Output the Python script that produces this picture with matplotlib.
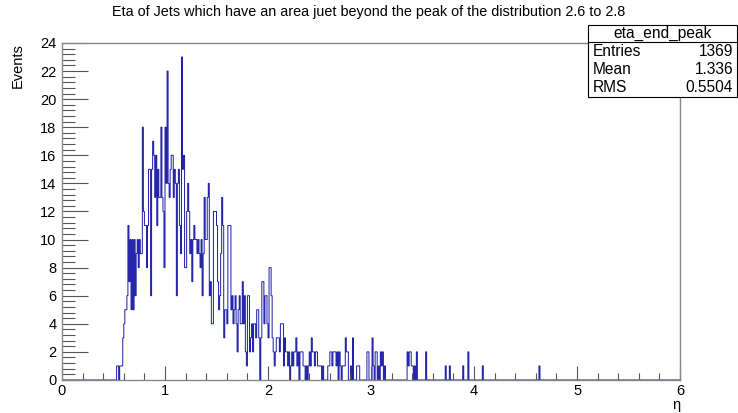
import numpy as np
import matplotlib.pyplot as plt
from matplotlib.ticker import MultipleLocator

plt.rcParams["font.family"] = ["Liberation Sans", "DejaVu Sans"]

# Histogram binning: 600 bins of width 0.01 over [0, 6]
n_bins = 600
x_min, x_max = 0.0, 6.0

# Bin contents, starting at bin 53 (eta = 0.53)
first_bin = 53
dense_counts = [
    1, 1, 0, 1, 1, 1, 3, 4, 5, 5, 6, 11, 7, 10, 5, 10, 5, 10, 6, 9, 10, 8, 10, 9, 9,
    18, 12, 11, 11, 8, 11, 15, 15, 6, 15, 17, 16, 13, 16, 11, 15, 13, 13, 18, 13, 12, 8, 18, 14, 22,
    14, 13, 15, 16, 16, 13, 15, 14, 6, 14, 15, 11, 9, 23, 15, 16, 8, 8, 12, 14, 12, 9, 10, 7, 10,
    11, 10, 10, 9, 10, 9, 8, 10, 6, 9, 13, 10, 10, 13, 14, 6, 7, 4, 4, 12, 12, 12, 11, 7, 5,
    6, 9, 13, 11, 3, 5, 5, 4, 11, 11, 11, 5, 6, 4, 5, 6, 4, 2, 5, 6, 4, 4, 7, 4, 6,
    2, 1, 6, 6, 2, 3, 4, 2, 4, 4, 3, 5, 5, 3, 0, 3, 7, 7, 4, 6, 6, 4, 3, 8, 8,
    6, 3, 2, 1, 2, 3, 3, 3, 2, 4, 4, 4, 1, 3, 2, 2, 1, 2, 0, 1, 2, 1, 2, 2, 3, 1, 2, 0,
    2, 2, 2, 1, 1, 0, 1, 0, 1, 2, 1, 3, 2, 2, 1, 2, 2, 1, 1, 1, 1, 0, 1, 0, 0, 0, 0,
    1, 1, 2, 2, 1, 2, 2, 2, 1, 2, 0, 2, 1, 0, 1, 1, 1, 3, 2, 2, 0, 0, 1, 0, 3, 0, 0, 0, 1, 1, 1,
    0, 0, 0, 0, 0, 0, 0, 2, 2, 0, 0, 0, 3, 1, 0, 2, 2, 0, 1, 0, 2, 1, 2, 0, 1,
]

# Sparse tail: bin index and content
tail_bins = [335, 336, 337, 338, 339, 340, 342, 344, 353, 372, 376, 389, 394, 408, 463]
tail_counts = [2, 1, 2, 2, 1, 1, 1, 2, 2, 1, 1, 1, 2, 1, 1]

# Stats box
hist_name = "eta_end_peak"
stat_names = ["Entries", "Mean", "RMS"]
stat_values = ["1369", "1.336", "0.5504"]

counts = np.zeros(n_bins)
counts[first_bin:first_bin + len(dense_counts)] = dense_counts
counts[tail_bins] = tail_counts
edges = np.linspace(x_min, x_max, n_bins + 1)

fig = plt.figure(figsize=(7.38, 4.13), dpi=100)
ax = fig.add_axes([0.084, 0.080, 0.8375, 0.816])

ax.stairs(counts, edges, color="#1a1aa6", linewidth=0.7)

ax.set_xlim(x_min, x_max)
ax.set_ylim(0, 24)

ax.xaxis.set_major_locator(MultipleLocator(1))
ax.xaxis.set_minor_locator(MultipleLocator(0.2))
ax.yaxis.set_major_locator(MultipleLocator(2))
ax.yaxis.set_minor_locator(MultipleLocator(0.4))

ax.tick_params(axis="x", which="major", direction="in", length=10, width=0.8,
               color="#555555", labelsize=10.5, pad=3)
ax.tick_params(axis="x", which="minor", direction="in", length=5, width=0.8, color="#555555")
ax.tick_params(axis="y", which="major", direction="in", length=19, width=0.8,
               color="#555555", labelsize=10.5, pad=4)
ax.tick_params(axis="y", which="minor", direction="in", length=9, width=0.8, color="#555555")

for side in ["left", "bottom", "top", "right"]:
    ax.spines[side].set_color("#888888")
    ax.spines[side].set_linewidth(1.0)

ax.set_xlabel("\u03b7", fontsize=10.5)
ax.xaxis.set_label_coords(1.0, -0.055)
ax.xaxis.label.set_horizontalalignment("right")
ax.set_ylabel("Events", fontsize=10.5)
ax.yaxis.set_label_coords(-0.06, 1.0)
ax.yaxis.label.set_horizontalalignment("right")

fig.text(0.499, 0.970, "Eta of Jets which have an area juet beyond the peak of the distribution 2.6 to 2.8",
         ha="center", va="center", fontsize=10.4)

# Stats box in the top-right corner
box_l, box_r = 588 / 738, 737 / 738
box_t, box_b = 1 - 25 / 413, 1 - 97 / 413
sep = 1 - 42 / 413
fig.patches.append(plt.Rectangle((box_l, box_b), box_r - box_l, box_t - box_b,
                                 transform=fig.transFigure, facecolor="white",
                                 edgecolor="black", linewidth=0.8, zorder=5))
fig.add_artist(plt.Line2D([box_l, box_r], [sep, sep], transform=fig.transFigure,
                          color="black", linewidth=0.8, zorder=6))
fig.text((box_l + box_r) / 2, 1 - 33.5 / 413, hist_name, ha="center", va="center",
         fontsize=11.2, zorder=7)
row_y = [51.5, 69.5, 87]
for name, val, y in zip(stat_names, stat_values, row_y):
    fig.text(593 / 738, 1 - y / 413, name, ha="left", va="center", fontsize=11.2, zorder=7)
    fig.text(733 / 738, 1 - y / 413, val, ha="right", va="center", fontsize=11.2, zorder=7)

fig.savefig("out.png", dpi=100)
